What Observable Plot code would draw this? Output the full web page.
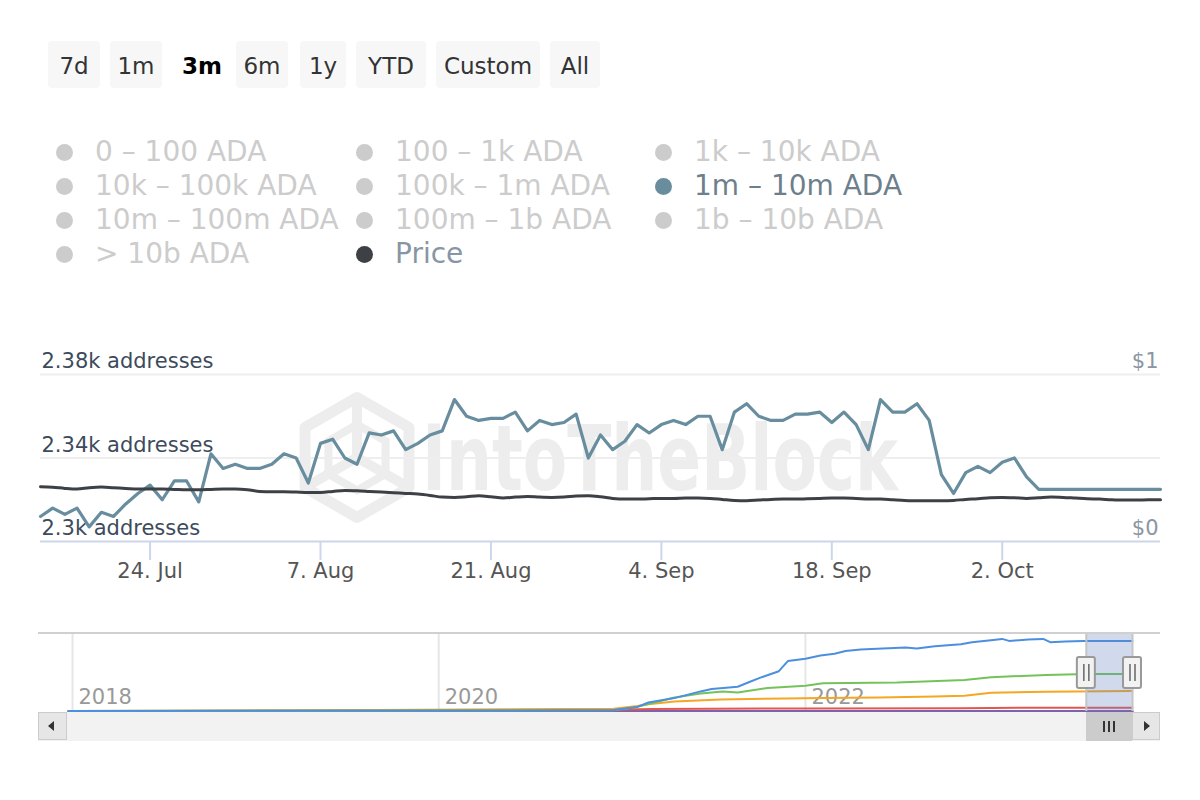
<!DOCTYPE html>
<html>
<head>
<meta charset="utf-8">
<script src="https://cdn.jsdelivr.net/npm/d3@7"></script>
<script src="https://cdn.jsdelivr.net/npm/@observablehq/plot@0.6"></script>
<style>
  body { margin: 0; background: #fff; font-family: "DejaVu Sans", sans-serif; }
  #root { position: relative; width: 1200px; height: 800px; overflow: hidden; background: #fff; }
  .btn { position: absolute; top: 41px; height: 47px; line-height: 50px; text-align: center;
         background: #f7f7f7; border-radius: 4px; font-size: 23px; color: #333; }
  .btn.sel { background: transparent; font-weight: bold; color: #000; }
  .leg { position: absolute; font-size: 28px; line-height: 34px; white-space: nowrap; color: #cccccc; }
  .leg .dot { position: absolute; width: 17px; height: 17px; border-radius: 50%; background: #cccccc; left: -39px; top: 9px; }
  .abs { position: absolute; }
  #mainChart { position: absolute; left: 0; top: 330px; }
  #navChart { position: absolute; left: 0; top: 620px; }
</style>
</head>
<body>
<div id="root"></div>
<script>
// ---------------- data ----------------
const rangeButtons = ["7d", "1m", "3m", "6m", "1y", "YTD", "Custom", "All"];
const selectedButton = "3m";

const legendLabels = ["0 – 100 ADA", "100 – 1k ADA", "1k – 10k ADA",
  "10k – 100k ADA", "100k – 1m ADA", "1m – 10m ADA",
  "10m – 100m ADA", "100m – 1b ADA", "1b – 10b ADA",
  "> 10b ADA", "Price"];
const activeSeries = ["1m – 10m ADA", "Price"];

const startDate = "2023-07-15";
const endDate = "2023-10-15";

// daily addresses holding 1m – 10m ADA (Jul 15 .. Oct 15, 2023)
const addresses = [
  2312, 2316, 2313, 2316, 2307, 2314, 2312, 2318, 2323, 2327,
  2320, 2329, 2329, 2319, 2342, 2335, 2337, 2335, 2335, 2337,
  2342, 2340, 2328, 2347, 2349, 2340, 2337, 2352, 2351, 2353,
  2344, 2347, 2351, 2353, 2368, 2360, 2358, 2359, 2359, 2362,
  2353, 2358, 2356, 2357, 2361, 2340, 2351, 2344, 2348, 2356,
  2352, 2356, 2358, 2356, 2360, 2360, 2344, 2362, 2366, 2360,
  2358, 2358, 2361, 2361, 2362, 2357, 2362, 2356, 2344, 2368,
  2362, 2362, 2366, 2358, 2332, 2323, 2333, 2336, 2333, 2338,
  2340, 2331, 2325, 2325, 2325, 2325, 2325, 2325, 2325, 2325,
  2325, 2325, 2325
];

// daily ADA price in USD
const prices = [
  0.328, 0.325, 0.318, 0.314, 0.322, 0.326, 0.322, 0.318, 0.314, 0.314,
  0.314, 0.312, 0.310, 0.310, 0.312, 0.314, 0.314, 0.310, 0.300, 0.298,
  0.298, 0.296, 0.294, 0.294, 0.300, 0.306, 0.304, 0.300, 0.296, 0.292,
  0.288, 0.284, 0.276, 0.266, 0.264, 0.268, 0.274, 0.268, 0.260, 0.266,
  0.270, 0.266, 0.264, 0.266, 0.272, 0.274, 0.268, 0.258, 0.254, 0.254,
  0.256, 0.258, 0.258, 0.260, 0.260, 0.258, 0.252, 0.246, 0.244, 0.248,
  0.252, 0.254, 0.254, 0.256, 0.258, 0.260, 0.260, 0.258, 0.254, 0.254,
  0.250, 0.246, 0.244, 0.244, 0.244, 0.246, 0.252, 0.256, 0.262, 0.264,
  0.262, 0.258, 0.262, 0.266, 0.264, 0.260, 0.256, 0.254, 0.250, 0.248,
  0.248, 0.250, 0.250
];

const yTicks = [2300, 2340, 2380];
const priceTicks = [0, 1];
const xTicks = ["2023-07-24", "2023-08-07", "2023-08-21", "2023-09-04", "2023-09-18", "2023-10-02"];

// navigator (full history, thousands of addresses per band)
const navStart = "2017-12-24";
const navYearTicks = ["2018-01-01", "2020-01-01", "2022-01-01"];
const navBlue = [["2017-12-24", 20], ["2019-01-01", 40], ["2020-06-01", 50], ["2020-12-15", 80],
  ["2021-01-31", 230], ["2021-02-22", 450], ["2021-04-15", 670], ["2021-06-06", 1005], ["2021-06-28", 1125],
  ["2021-08-19", 1240], ["2021-09-10", 1460], ["2021-10-02", 1680], ["2021-11-09", 2015], ["2021-11-27", 2520],
  ["2022-01-01", 2640], ["2022-01-31", 2805], ["2022-02-28", 2890], ["2022-03-22", 3025], ["2022-04-21", 3095],
  ["2022-06-04", 3145], ["2022-07-20", 3195], ["2022-08-11", 3145], ["2022-09-16", 3260], ["2022-11-07", 3365],
  ["2022-11-29", 3465], ["2023-01-06", 3565], ["2023-01-28", 3630], ["2023-02-11", 3530], ["2023-03-21", 3600],
  ["2023-04-20", 3630], ["2023-05-04", 3465], ["2023-06-03", 3500], ["2023-07-09", 3530], ["2023-10-15", 3530]];
const navGreen = [["2017-12-24", 20], ["2020-12-15", 60], ["2021-01-31", 230], ["2021-04-15", 700],
  ["2021-06-06", 905], ["2021-07-20", 1005], ["2021-08-19", 955], ["2021-10-18", 1175], ["2022-01-01", 1290],
  ["2022-02-05", 1410], ["2022-07-03", 1445], ["2022-11-14", 1580], ["2023-01-06", 1715], ["2023-04-26", 1830],
  ["2023-07-15", 1870], ["2023-10-15", 1880]];
const navOrange = [["2017-12-24", 30], ["2019-06-01", 60], ["2020-12-15", 140], ["2021-01-31", 280],
  ["2021-02-22", 365], ["2021-04-15", 500], ["2021-07-16", 600], ["2021-11-24", 650], ["2022-02-05", 670],
  ["2022-05-28", 700], ["2022-09-16", 755], ["2022-11-14", 785], ["2023-01-06", 940], ["2023-04-26", 990],
  ["2023-10-15", 1025]];
const navRed = [["2017-12-24", 15], ["2020-11-15", 80], ["2021-03-01", 130], ["2022-01-01", 150],
  ["2022-11-01", 160], ["2023-01-06", 180], ["2023-10-15", 190]];
const navPurple = [["2017-12-24", 5], ["2021-01-01", 20], ["2022-01-01", 25], ["2023-10-15", 30]];
const navMaroon = [["2017-12-24", 2], ["2023-10-15", 4]];

// ---------------- page ----------------
const root = document.getElementById("root");
const parse = d3.utcParse("%Y-%m-%d");
const t0 = parse(startDate), t1 = parse(endDate);

// range selector buttons
const btnBoxes = [[48, 52], [110, 52], [172, 60], [236, 52], [300, 46], [356, 70], [436, 104], [550, 50]];
rangeButtons.forEach((b, i) => {
  const el = document.createElement("div");
  el.className = "btn" + (b === selectedButton ? " sel" : "");
  el.style.left = btnBoxes[i][0] + "px";
  el.style.width = btnBoxes[i][1] + "px";
  el.textContent = b;
  root.appendChild(el);
});

// legend
const legCols = [95, 395, 694], legRows = [135, 169, 203, 237];
const activeColors = {"1m – 10m ADA": ["#6a8d9d", "#6e7f8c"], "Price": ["#3d4145", "#8796a4"]};
legendLabels.forEach((l, i) => {
  const el = document.createElement("div");
  el.className = "leg";
  el.style.left = legCols[i % 3] + "px";
  el.style.top = legRows[Math.floor(i / 3)] + "px";
  const dot = document.createElement("span");
  dot.className = "dot";
  el.appendChild(dot);
  el.appendChild(document.createTextNode(l));
  if (activeSeries.includes(l)) {
    dot.style.background = activeColors[l][0];
    el.style.color = activeColors[l][1];
  }
  root.appendChild(el);
});

// main chart
const days = d3.utcDay.range(t0, d3.utcDay.offset(t1, 1));
const rows = days.map((d, i) => ({date: d, addr: addresses[i], price: prices[i]}));
const [Y0, Y1] = [yTicks[0], yTicks[yTicks.length - 1]];
const priceToY = p => Y0 + p * (Y1 - Y0);

// watermark (logo + wordmark), decorative
function watermark(index, scales, values, dims) {
  const g = d3.create("svg:g");
  const cx = dims.marginLeft + 317;
  const cy = dims.marginTop + (dims.height - dims.marginTop - dims.marginBottom) / 2;
  const col = "#ededed";
  const R = 60;
  const pts = d3.range(6).map(k => {
    const a = (-90 + 60 * k) * Math.PI / 180;
    return [cx + R * Math.cos(a), cy + R * Math.sin(a)];
  });
  g.append("path").attr("d", "M" + pts.map(p => p.join(",")).join("L") + "Z")
    .attr("fill", "none").attr("stroke", col).attr("stroke-width", 11).attr("stroke-linejoin", "round");
  const r2 = R * 0.55;
  const inner = d3.range(6).map(k => {
    const a = (-90 + 60 * k) * Math.PI / 180;
    return [cx + r2 * Math.cos(a), cy + r2 * Math.sin(a)];
  });
  [0, 2, 4].forEach(a => {
    g.append("line").attr("x1", pts[a][0]).attr("y1", pts[a][1]).attr("x2", cx).attr("y2", cy)
      .attr("stroke", col).attr("stroke-width", 10);
  });
  g.append("path").attr("d", "M" + inner.map(p => p.join(",")).join("L") + "Z")
    .attr("fill", "none").attr("stroke", col).attr("stroke-width", 8);
  g.append("text").attr("x", dims.marginLeft + 382).attr("y", cy + 32)
    .attr("text-anchor", "start")
    .attr("textLength", 476).attr("lengthAdjust", "spacingAndGlyphs")
    .attr("font-size", 90).attr("font-weight", "bold").attr("font-family", "DejaVu Sans, sans-serif")
    .attr("fill", col).text("IntoTheBlock");
  return g.node();
}

const main = Plot.plot({
  width: 1200, height: 280,
  marginLeft: 40, marginRight: 40, marginTop: 44, marginBottom: 69,
  style: {background: "transparent", fontFamily: "DejaVu Sans, sans-serif", fontSize: "21px", overflow: "visible"},
  x: {type: "utc", domain: [t0, t1]},
  y: {domain: [Y0, Y1]},
  marks: [
    watermark,
    Plot.gridY(yTicks.slice(1), {stroke: "#eeeeee", strokeOpacity: 1, strokeWidth: 2}),
    Plot.ruleY([Y0], {stroke: "#ccd6eb", strokeWidth: 2}),
    Plot.axisX(xTicks.map(parse), {anchor: "bottom", label: null, tickSize: 19, tickPadding: 3, stroke: "#ccd6eb", strokeWidth: 2,
      strokeOpacity: 1, fill: "#555", tickFormat: d3.utcFormat("%-d. %b")}),
    Plot.axisY(yTicks, {anchor: "left", label: null, tickSize: 0, tickPadding: 0, textAnchor: "start", dx: 1, dy: -13,
      fill: "#3d4a5c", tickFormat: d => (d / 1000) + "k addresses"}),
    Plot.axisY(priceTicks.map(priceToY), {anchor: "right", label: null, tickSize: 0, tickPadding: 0, textAnchor: "end", dx: -2, dy: -13,
      fill: "#8a96a3", tickFormat: d => "$" + Math.round((d - Y0) / (Y1 - Y0))}),
    Plot.line(rows, {x: "date", y: "addr", stroke: "#678d9e", strokeWidth: 3.2}),
    Plot.line(rows, {x: "date", y: d => priceToY(d.price), stroke: "#3d4145", strokeWidth: 3, curve: "monotone-x"})
  ]
});
main.id = "mainChart";
root.appendChild(main);

// navigator
const toSeries = arr => arr.map(([d, v]) => ({date: parse(d), v}));
const navSeries = [
  [navMaroon, "#8b1e2f"], [navPurple, "#7e62ad"], [navRed, "#e4574f"],
  [navOrange, "#f5a623"], [navGreen, "#74c35a"], [navBlue, "#4c8fe0"]
];
const sel = [t0, t1];
const nav = Plot.plot({
  width: 1200, height: 92,
  marginLeft: 68, marginRight: 68, marginTop: 13, marginBottom: 1,
  style: {background: "transparent", fontFamily: "DejaVu Sans, sans-serif", fontSize: "21px", overflow: "visible"},
  x: {type: "utc", domain: [parse(navStart), t1], axis: null},
  y: {domain: [0, 3900], axis: null},
  marks: [
    Plot.gridX(navYearTicks.map(parse), {stroke: "#e6e6e6", strokeOpacity: 1, strokeWidth: 2}),
    Plot.text(navYearTicks.map(parse), {x: d => d, frameAnchor: "bottom", lineAnchor: "bottom", textAnchor: "start",
      dx: 6, dy: -8, fill: "#999", text: d3.utcFormat("%Y")}),
    ...navSeries.map(([arr, c]) => Plot.line(toSeries(arr), {x: "date", y: "v", stroke: c, strokeWidth: 2})),
    Plot.rect([sel], {x1: d => d[0], x2: d => d[1], fill: "#6685c2", fillOpacity: 0.3}),
    Plot.ruleX(sel, {stroke: "#c4c4c4", strokeWidth: 2}),
    Plot.rect(sel, {x1: d => d, x2: d => d, y1: 1150, y2: 2700, insetLeft: -9, insetRight: -9,
      fill: "#f2f2f2", stroke: "#999", strokeWidth: 2, rx: 2}),
    Plot.ruleX(sel, {x: d => d, y1: 1500, y2: 2350, dx: -2.5, stroke: "#666", strokeWidth: 1.5}),
    Plot.ruleX(sel, {x: d => d, y1: 1500, y2: 2350, dx: 2.5, stroke: "#666", strokeWidth: 1.5})
  ]
});
nav.id = "navChart";
root.appendChild(nav);

// navigator frame + scrollbar (chrome)
const navX = nav.scale("x");
function box(l, t, w, h, css) {
  const el = document.createElement("div");
  el.className = "abs";
  Object.assign(el.style, {left: l + "px", top: t + "px", width: w + "px", height: h + "px"}, css || {});
  root.appendChild(el);
  return el;
}
box(38, 632, 1122, 2, {background: "#d0d0d0"});
box(38, 712, 1122, 29, {background: "#f2f2f2"});
const thumbL = navX.apply(sel[0]), thumbR = navX.apply(sel[1]);
box(thumbL, 712, thumbR - thumbL, 29, {background: "#cccccc"});
[-5, 0, 5].forEach(o => box((thumbL + thumbR) / 2 + o - 1, 721, 2, 11, {background: "#333"}));
box(38, 712, 29, 28, {background: "#e6e6e6", border: "1px solid #cccccc", boxSizing: "border-box"});
box(thumbR, 712, 1160 - thumbR, 28, {background: "#e6e6e6", border: "1px solid #cccccc", boxSizing: "border-box"});
box(48, 721, 0, 0, {borderTop: "5px solid transparent", borderBottom: "5px solid transparent", borderRight: "6px solid #333"});
box((thumbR + 1160) / 2 - 2, 721, 0, 0, {borderTop: "5px solid transparent", borderBottom: "5px solid transparent", borderLeft: "6px solid #333"});
</script>
</body>
</html>
